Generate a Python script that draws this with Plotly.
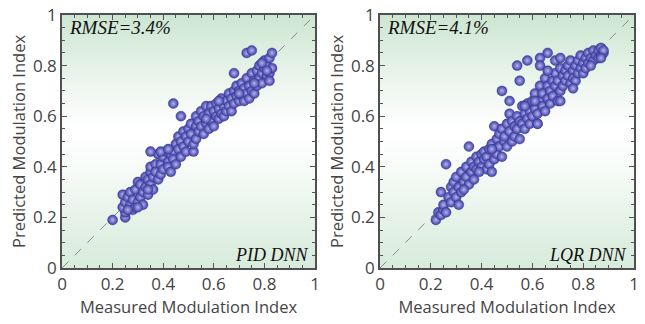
import plotly.graph_objects as go

# ---- data: left panel (PID DNN) ----
pid_measured = [0.20,0.25,0.25,0.24,0.25,0.24,0.26,0.27,0.27,0.28,0.28,0.29,0.29,0.30,0.30,0.31,0.31,0.32,0.32,0.33,
                0.33,0.34,0.34,0.35,0.35,0.35,0.36,0.36,0.37,0.37,0.38,0.38,0.39,0.39,0.40,0.40,0.41,0.42,0.42,0.43,
                0.43,0.44,0.44,0.45,0.45,0.46,0.46,0.47,0.47,0.48,0.48,0.49,0.49,0.50,0.50,0.51,0.51,0.52,0.52,0.53,
                0.53,0.53,0.54,0.54,0.55,0.55,0.56,0.56,0.57,0.57,0.58,0.58,0.59,0.59,0.60,0.60,0.61,0.61,0.62,0.62,
                0.63,0.63,0.64,0.64,0.65,0.65,0.66,0.66,0.67,0.67,0.68,0.68,0.69,0.69,0.70,0.70,0.71,0.71,0.72,0.72,
                0.73,0.73,0.74,0.74,0.75,0.75,0.76,0.76,0.77,0.77,0.78,0.78,0.79,0.79,0.80,0.80,0.81,0.81,0.82,0.82,
                0.83,0.83,0.82,0.76,0.73,0.75,0.44,0.47,0.35,0.68,0.39,0.42,0.26,0.30,0.34,0.57,0.62,0.70,0.79,0.81]
pid_predicted = [0.19,0.20,0.22,0.24,0.26,0.29,0.28,0.30,0.25,0.23,0.27,0.31,0.24,0.26,0.34,0.33,0.28,0.25,0.30,0.36,
                 0.32,0.29,0.35,0.38,0.40,0.33,0.31,0.36,0.41,0.38,0.35,0.45,0.41,0.37,0.39,0.44,0.46,0.42,0.40,0.38,
                 0.45,0.46,0.43,0.41,0.49,0.47,0.52,0.44,0.50,0.54,0.48,0.46,0.52,0.55,0.50,0.53,0.57,0.46,0.49,0.56,
                 0.51,0.60,0.58,0.54,0.62,0.56,0.60,0.53,0.57,0.64,0.61,0.55,0.58,0.64,0.62,0.56,0.60,0.65,0.63,0.59,
                 0.67,0.61,0.64,0.60,0.66,0.62,0.69,0.64,0.62,0.67,0.70,0.65,0.68,0.72,0.66,0.70,0.73,0.68,0.66,0.71,
                 0.75,0.69,0.72,0.67,0.70,0.77,0.74,0.69,0.72,0.78,0.75,0.80,0.73,0.77,0.79,0.82,0.76,0.80,0.77,0.83,
                 0.85,0.79,0.74,0.73,0.85,0.86,0.65,0.60,0.46,0.77,0.46,0.47,0.23,0.24,0.31,0.59,0.66,0.69,0.81,0.78]

# ---- data: right panel (LQR DNN) ----
lqr_measured = [0.22,0.23,0.24,0.25,0.25,0.24,0.26,0.26,0.27,0.28,0.28,0.29,0.29,0.30,0.30,0.31,0.31,0.32,0.32,0.33,
                0.34,0.34,0.35,0.35,0.36,0.36,0.37,0.37,0.38,0.38,0.39,0.40,0.40,0.41,0.41,0.42,0.42,0.43,0.43,0.44,
                0.44,0.45,0.45,0.45,0.46,0.46,0.47,0.47,0.48,0.48,0.49,0.49,0.50,0.50,0.51,0.51,0.52,0.52,0.53,0.53,
                0.54,0.54,0.55,0.55,0.56,0.56,0.57,0.57,0.58,0.58,0.59,0.59,0.60,0.60,0.61,0.61,0.62,0.62,0.63,0.63,
                0.64,0.64,0.65,0.65,0.66,0.66,0.67,0.67,0.68,0.68,0.69,0.69,0.70,0.70,0.71,0.71,0.72,0.72,0.73,0.73,
                0.74,0.74,0.75,0.75,0.76,0.76,0.77,0.77,0.78,0.78,0.79,0.79,0.80,0.80,0.81,0.81,0.82,0.82,0.83,0.84,
                0.84,0.85,0.86,0.86,0.87,0.87,0.88,0.88,0.87,0.54,0.58,0.55,0.48,0.51,0.63,0.66,0.63,0.69,0.71,0.66,
                0.71,0.62,0.44,0.33,0.39,0.57,0.61,0.83,0.76]
lqr_predicted = [0.19,0.22,0.21,0.23,0.25,0.30,0.41,0.22,0.28,0.32,0.26,0.34,0.30,0.28,0.36,0.25,0.32,0.38,0.30,0.34,
                 0.36,0.40,0.48,0.33,0.38,0.42,0.35,0.40,0.44,0.39,0.42,0.45,0.40,0.43,0.46,0.39,0.44,0.47,0.41,0.49,
                 0.38,0.56,0.47,0.43,0.51,0.45,0.48,0.53,0.44,0.55,0.50,0.52,0.57,0.48,0.61,0.54,0.50,0.58,0.56,0.52,
                 0.60,0.55,0.58,0.51,0.64,0.57,0.61,0.55,0.59,0.65,0.62,0.57,0.66,0.60,0.63,0.69,0.57,0.61,0.66,0.72,
                 0.64,0.69,0.62,0.75,0.67,0.72,0.70,0.65,0.74,0.68,0.72,0.77,0.66,0.74,0.70,0.79,0.76,0.72,0.78,0.74,
                 0.80,0.76,0.73,0.82,0.78,0.75,0.80,0.74,0.82,0.77,0.79,0.84,0.81,0.77,0.83,0.79,0.85,0.81,0.83,0.86,
                 0.82,0.84,0.86,0.83,0.87,0.84,0.85,0.86,0.83,0.80,0.82,0.74,0.70,0.66,0.83,0.85,0.80,0.82,0.83,0.78,
                 0.66,0.57,0.47,0.31,0.38,0.64,0.66,0.80,0.71]

panel_labels = ["PID DNN", "LQR DNN"]
rmse_labels = ["RMSE=3.4%", "RMSE=4.1%"]
tick_vals = [0, 0.2, 0.4, 0.6, 0.8, 1]
tick_text = ["0", "0.2", "0.4", "0.6", "0.8", "1"]
x_title = "Measured Modulation Index"
y_title = "Predicted Modulation Index"

# background gradient levels (vertical)
bg_y = [0.0, 0.2, 0.4, 0.55, 0.7, 0.85, 1.0]
bg_level = [0.8, 0.5, 0.15, 0.0, 0.3, 0.65, 1.0]

fig = go.Figure()
panels = [(pid_measured, pid_predicted, "x", "y"), (lqr_measured, lqr_predicted, "x2", "y2")]
for i, (mx, py, xa, ya) in enumerate(panels):
    fig.add_trace(go.Heatmap(
        x=[0, 1], y=bg_y, z=[[v, v] for v in bg_level],
        zmin=0, zmax=1, zsmooth="best", showscale=False, hoverinfo="skip",
        colorscale=[[0, "#ffffff"], [1, "#cde6d2"]], xaxis=xa, yaxis=ya))
    fig.add_trace(go.Scatter(
        x=[0, 1], y=[0, 1], mode="lines",
        line=dict(color="#8a8a8a", width=1, dash="dash"),
        hoverinfo="skip", showlegend=False, xaxis=xa, yaxis=ya))
    fig.add_trace(go.Scatter(
        x=mx, y=py, mode="markers", showlegend=False, xaxis=xa, yaxis=ya,
        marker=dict(size=10, color="#3e3ea6",
                    gradient=dict(type="radial", color="#b4b4ee"),
                    line=dict(color="#34348a", width=0.4))))

axis_common = dict(
    range=[0, 1], tickvals=tick_vals, ticktext=tick_text,
    ticks="inside", ticklen=5, tickwidth=1, tickcolor="#555",
    minor=dict(dtick=0.05, ticks="inside", ticklen=3, tickcolor="#555", showgrid=False),
    mirror="allticks", showline=True, linecolor="#505050", linewidth=1.5,
    showgrid=False, zeroline=False, fixedrange=True, automargin=False,
    tickfont=dict(family="Open Sans", size=17, color="#444"),
)
x_domains = [[62/645, 315/645], [380/645, 634/645]]
y_domain = [(324-268)/324, (324-15)/324]

layout = dict(
    width=645, height=324, margin=dict(l=0, r=0, t=0, b=0, autoexpand=False),
    paper_bgcolor="white", plot_bgcolor="white", showlegend=False,
)
for i in range(2):
    sx = "" if i == 0 else "2"
    layout["xaxis" + sx] = dict(axis_common, domain=x_domains[i], anchor="y" + sx,
                                title=dict(text=x_title, standoff=6,
                                           font=dict(family="Open Sans", size=16.5, color="#444")))
    layout["yaxis" + sx] = dict(axis_common, domain=y_domain, anchor="x" + sx,
                                title=dict(text=y_title, standoff=3,
                                           font=dict(family="Open Sans", size=16.5, color="#444")))
fig.update_layout(**layout)

for i in range(2):
    sx = "" if i == 0 else "2"
    fig.add_annotation(x=0.02, y=0.95, xref="x" + sx, yref="y" + sx, text="<i>" + rmse_labels[i] + "</i>",
                       showarrow=False, xanchor="left", yanchor="middle",
                       font=dict(family="Liberation Serif", size=19, color="#111"))
    fig.add_annotation(x=0.98, y=0.05, xref="x" + sx, yref="y" + sx, text="<i>" + panel_labels[i] + "</i>",
                       showarrow=False, xanchor="right", yanchor="middle",
                       font=dict(family="Liberation Serif", size=18, color="#111"))

fig.write_html("out.html")
